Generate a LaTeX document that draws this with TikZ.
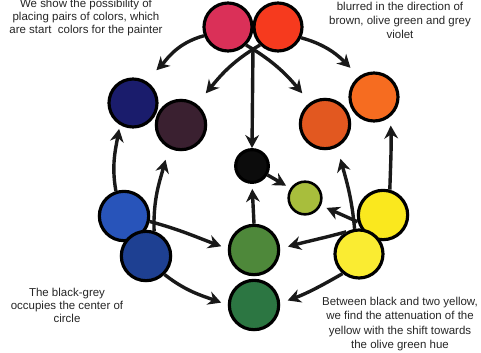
\documentclass[tikz,border=0pt]{standalone}
\usepackage{fontspec}
\setmainfont{Liberation Sans}
\usepackage{xcolor}
\definecolor{pcrimson}{RGB}{218,48,88}
\definecolor{pvermilion}{RGB}{246,58,30}
\definecolor{pnavy}{RGB}{26,28,108}
\definecolor{pplum}{RGB}{58,32,48}
\definecolor{porange}{RGB}{246,108,32}
\definecolor{prust}{RGB}{226,88,32}
\definecolor{pjet}{RGB}{12,12,12}
\definecolor{polive}{RGB}{168,190,60}
\definecolor{pleaf}{RGB}{78,136,58}
\definecolor{ppine}{RGB}{44,118,66}
\definecolor{pblue}{RGB}{40,84,186}
\definecolor{pcobalt}{RGB}{30,64,146}
\definecolor{plemon}{RGB}{250,232,30}
\definecolor{pyellow}{RGB}{250,236,50}
\usetikzlibrary{arrows.meta}

\tikzset{
  paint/.style={circle, draw=black, line width=2.7pt, inner sep=0pt, minimum size=#1},
  paint/.default=1.48cm,
  arr/.style={-{Stealth[length=3.9mm, width=4.1mm]}, line width=2.9pt, black!90},
  remark/.style={font=\fontsize{9.8}{#1}\selectfont, text=black!85, align=center, inner sep=0pt},
  remark/.default=11.1
}

\begin{document}
\begin{tikzpicture}[x=0.03cm, y=-0.03cm]
\useasboundingbox (0,0) rectangle (481,352);

% === Top pair ===
\node[paint=1.44cm, fill=pcrimson] (crimson) at (228,27) {};
\node[paint=1.44cm, fill=pvermilion] (vermilion) at (278,27) {};

% === Upper ring ===
\node[paint=1.44cm, fill=pnavy] (navy) at (133,103) {};
\node[paint, fill=pplum] (plum) at (181,125) {};
\node[paint=1.44cm, fill=porange] (orange) at (374,97) {};
\node[paint, fill=prust] (rust) at (325,124) {};

% === Centre ===
\node[paint=0.98cm, fill=pjet] (ink) at (252,166) {};
\node[paint=0.98cm, line width=2.2pt, fill=polive] (olive) at (305,198) {};
\node[paint, fill=pleaf] (leaf) at (254,250) {};
\node[paint, fill=ppine] (pine) at (254,305) {};

% === Lower pairs ===
\node[paint, fill=pblue] (blue) at (124,216) {};
\node[paint, fill=pcobalt] (cobalt) at (146,256) {};
\node[paint, fill=plemon] (lemon) at (383,215) {};
\node[paint=1.44cm, fill=pyellow] (yellow) at (359,254) {};

% arrows from the top pair
\coordinate (fork) at (253,47);
\draw[arr, shorten >=4.5mm] (crimson.200) to[out=195, in=45] (navy.60);
\draw[arr, shorten >=3.6mm] (crimson.-45) to[out=-30, in=130] (rust.125);
\draw[arr, shorten >=4.2mm] (vermilion.225) to[out=210, in=50] (plum.53);
\draw[arr, shorten >=3.6mm] (vermilion.-25) to[out=-15, in=135] (orange.126);
\draw[arr] (fork) -- (ink.north);

% arrows from the blues
\draw[arr, shorten >=1.2mm] (blue.108) to[out=100, in=-100] (navy.239);
\draw[arr, shorten >=3.6mm] (cobalt.72) to[out=92, in=-105] (plum.242);
\draw[arr, shorten >=2.1mm] (blue.-12) to[out=-15, in=160] (leaf.177);
\draw[arr, shorten >=2.1mm] (cobalt.-45) to[out=-38, in=160] (pine.180);

% arrows in the middle
\draw[arr, shorten >=1.5mm] (leaf.north) -- (ink.south);
\draw[arr, shorten >=1.5mm] (ink.-30) -- (olive.146);

% arrows from the yellows
\draw[arr, shorten >=2.7mm] (lemon.75) to[out=88, in=-88] (orange.-50);
\draw[arr, shorten >=3.6mm] (yellow.100) to[out=95, in=-75] (rust.-62);
\draw[arr, shorten >=1.8mm] (lemon.195) -- (olive.-25);
\draw[arr, shorten >=2.4mm] (yellow.120) to[out=195, in=15] (leaf.3);
\draw[arr, shorten >=2.4mm] (yellow.230) to[out=210, in=20] (pine.4);

% === Texts ===
\node[remark] (topleft) at (86,18) {We show the possibility of\\placing pairs of colors, which\\are start~ colors for the painter};
\node[remark=11.9] (topright) at (400,20) {blurred in the direction of\\brown, olive green and grey\\violet};
\node[remark] (bottomleft) at (67,305) {The black-grey\\occupies the center of\\circle};
\node[remark=12.2] (bottomright) at (400,324) {Between black and two yellow,\\we find the attenuation of the\\yellow with the shift towards\\the olive green hue};

\end{tikzpicture}
\end{document}
